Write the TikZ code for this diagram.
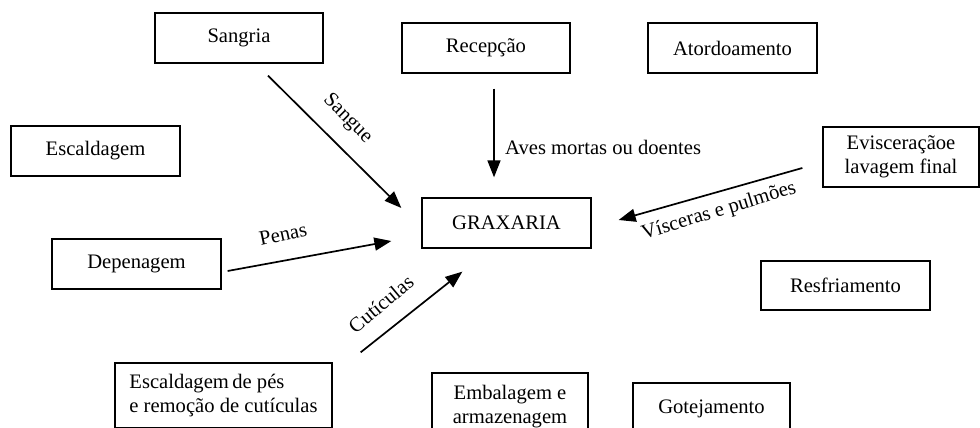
\documentclass[tikz,border=0pt]{standalone}
\usepackage{fontspec}
\setmainfont{Liberation Serif}
\usetikzlibrary{arrows.meta}
\begin{document}
\begin{tikzpicture}[x=1pt,y=1pt,
    font=\fontsize{20.6}{24}\selectfont,
    box/.style={draw,line width=1.3pt,inner sep=0pt,minimum width=#1,minimum height=50pt},
    box/.default=169pt,
    flow/.style={line width=1.7pt,-{Triangle[length=17pt,width=13pt]}},
    lbl/.style={inner sep=0pt}]
\clip (0,0) rectangle (980,428);
\node[box=168pt] (sangria) at (239,390) {Sangria};
\node[box=168pt] (recepcao) at (486,380) {Recepção};
\node[box] (atordoamento) at (732.5,380) {Atordoamento};
\node[box] (escaldagem) at (95.5,277) {Escaldagem};
\node[box] (graxaria) at (506.5,205) {GRAXARIA};
\node[box=156pt,minimum height=60pt,align=center] (evisceracao) at (901,271) {Evisceraçãoe\\lavagem final};
\node[box] (depenagem) at (136.5,164) {Depenagem};
\node[box,minimum height=49pt] (resfriamento) at (845.5,142.5) {Resfriamento};
\node[box=217pt,minimum height=65pt,align=left] (escpes) at (223.5,32.5) {Escaldagem\,de pés\\e remoção de cutículas};
\node[box=156pt,minimum height=68pt,align=center] (embalagem) at (510,21) {Embalagem e\\armazenagem};
\node[box=157pt,minimum height=52pt] (gotejamento) at (711.5,19) {Gotejamento};
% free ends of the arrows
\coordinate (sangue1) at ([shift={(29,-12)}]sangria.south);
\coordinate (sangue2) at ([shift={(-20,15)}]graxaria.west);
\coordinate (aves1) at ([shift={(8,-15)}]recepcao.south);
\coordinate (aves2) at ([shift={(-12.5,20)}]graxaria.north);
\coordinate (visc1) at ([shift={(-20,-11)}]evisceracao.west);
\coordinate (visc2) at ([shift={(27,3)}]graxaria.east);
\coordinate (penas1) at ([shift={(6,-7)}]depenagem.east);
\coordinate (penas2) at ([shift={(-30,-18)}]graxaria.west);
\coordinate (cut1) at ([shift={(28,10)}]escpes.north east);
\coordinate (cut2) at ([shift={(41,-23)}]graxaria.south west);
\draw[flow] (sangue1) -- (sangue2);
\draw[flow] (aves1) -- (aves2);
\draw[flow] (visc1) -- (visc2);
\draw[flow] (penas1) -- (penas2);
\draw[flow] (cut1) -- (cut2);
\node[lbl,rotate=-45] (tsangue) at (347.5,309) {Sangue};
\node[lbl,anchor=base west] (taves) at (505,273) {Aves mortas ou doentes};
\node[lbl,rotate=12] (tpenas) at (283,194) {Penas};
\node[lbl,rotate=40] (tcut) at (381,124) {Cutículas};
\node[lbl,rotate=17] (tvisc) at (719,216.5) {Vísceras e pulmões};
\end{tikzpicture}
\end{document}
